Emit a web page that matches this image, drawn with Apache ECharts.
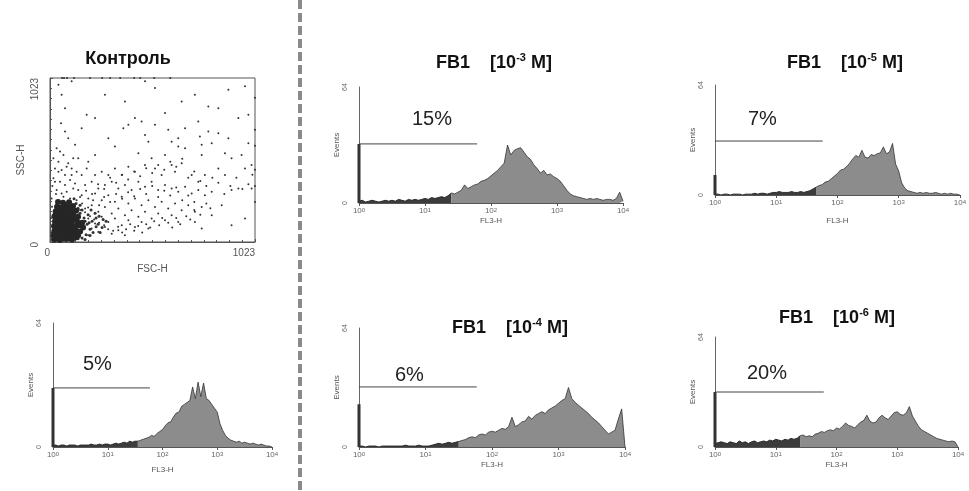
<!DOCTYPE html>
<html><head><meta charset="utf-8">
<script src="https://cdn.jsdelivr.net/npm/echarts@6/dist/echarts.min.js"></script>
<style>html,body{margin:0;padding:0;background:#fff}#c{width:969px;height:491px}</style>
</head><body><div id="c"></div>
<script>
// ---------- DATA ----------
// histogram channel step, in decades of FL3-H (10^0 .. 10^4)
const decadeStep = 0.05;
const xTickExps = [0, 1, 2, 3, 4];

// Events per channel (y axis 0..64)
const ctrlCounts = [1,1,0.5,1,1,0.5,1,1,1,0.5, 1,1,1,1,1.5,1,1,1.5,1,1.5, 1.5,1,1.5,2,1.5,2,2.5,2,3,2.5, 3,
  3,3.5,4,4.5,5,6,5.5,7,8,9, 11,12.5,13,15.5,17.5,18,21,22,23,24,
  31,25,33.5,26,33,25,24,22,20,18, 12,8.5,6,4.5,3.5,3,2.5,3,2,2.5, 2,1.5,2,1.5,1,1.5,1,0.5,0.5,0];
const fb3Counts = [1,1.5,0.5,1,1.5,1,0.5,1,1.5,1, 1.5,1,2,1.5,1,2,1.5,2,1.5,2, 2.5,2,3,2.5,3,3.5,3,4,
  5.5,5,6,7,10,8,9,10,10.5,12, 12.5,13.5,15,16.5,18,20,22,32,26.5,29,
  30,30.5,28,25.5,24,21,19,16.5,18,15.5, 16,14.5,13.5,12,9.5,7,5,4,3.5,3,
  2.5,2,2.5,2,2.5,2,1.5,2,2,1.5, 2.5,6,1];
const fb4Counts = [0.5,0.5,0,0.5,0.5,0.5,0,0.5,0.5,0.5, 0.5,0.5,0.5,0.5,1,0.5,0.5,0.5,1,0.5, 0.5,0.5,1,
  1.5,2,1.5,2,2.5,2,2.5,3,3.5,4, 5,5.5,5,6.5,7,6.5,8,8.5,8,9,
  10,9.5,11,16,11,12,13.5,14,16.5,15, 17,18,19,18,20,21,22,23.5,25,26,
  32,26,24,22.5,21,19.5,18,16,14.5,13, 11,9,7,8,9,15,20.5,0];
const fb5Counts = [0.5,0.5,0,0.5,0.5,0,0.5,0.5,0.5,0,0.5,0.5,0.5, 1,0.5,1,1,0.5,1,
  1.5,1.5,2,1.5,1.5,1.5,2,1.5,1.5,2,1.5,2,2.5,
  3.5,4.5,5.5,6,7.5,8,9.5,11,12.5,14.5, 15,16.5,18.5,21,23,22,26,22,21.5,23.5,
  23,24,24.5,28,24,25,30,18,14,7, 4,2.5,2,1.5,1,1.5,1,1.5,1,1, 1.5,1,0.5,1,0.5,1,0.5,0.5,0];
const fb6Counts = [2,2.5,3,2.5,2,3,2.5,2,3.5,2.5,3,2,3,3.5,2.5,3, 3.5,3,4,3.5,4.5,4,3.5,4.5,4,5,4.5,5,
  6.5,7,6,6.5,6,7.5,8,9,8.5,9.5, 10,9.5,11,10.5,12,14,12.5,12,11,13,
  14.5,15.5,18.5,15,14,14.5,17,18.5,17,16, 18,20,20.5,19,18.5,20,23.5,18,15,12,
  10,9,8,7,6,5,4.5,4,3.5,3, 3.5,3,0];

// order: control, 10^-3, 10^-4, 10^-5, 10^-6
const spikeCounts = [30.5, 32.5, 23, 11.6, 32];
const m1Level = [30.5, 32.6, 32.3, 31.4, 32];
const m1End = [1.77, 1.79, 1.77, 1.76, 1.79];
const darkEnd = [1.55, 1.4, 1.5, 1.65, 1.4];
const percentLabels = ['5%', '15%', '6%', '7%', '20%'];
const concExp = [null, '-3', '-4', '-5', '-6'];

// FSC-H / SSC-H events (0..1023)
const scatterCore = [[20,15],[35,20],[50,12],[65,25],[80,18],[95,22],[110,15],[125,28],
 [18,40],[30,45],[45,38],[60,50],[75,42],[90,55],[105,45],[120,52],[140,40],
 [22,70],[38,65],[52,78],[68,68],[84,80],[98,70],[112,82],[130,72],[150,65],
 [20,100],[34,95],[48,108],[62,98],[78,110],[92,100],[108,112],[125,98],[145,105],[165,90],
 [25,130],[40,125],[55,138],[70,128],[85,140],[100,130],[118,142],[135,128],[160,120],
 [22,160],[38,155],[52,168],[68,158],[82,170],[98,160],[115,172],[140,158],
 [28,190],[45,185],[60,198],[75,188],[92,200],[110,190],[130,195],
 [35,220],[55,215],[72,228],[90,218],[115,225],[40,250],[65,245],[95,248],
 [28,30],[42,28],[58,35],[72,30],[88,35],[102,30],[118,35],[27,55],[43,52],[58,60],[73,55],[88,62],
 [102,58],[30,85],[45,88],[60,85],[75,90],[90,86],[105,90],[28,115],[42,112],[58,118],[73,115],
 [88,120],[103,118],[32,142],[48,145],[62,148],[78,145],[92,150],[108,148],[30,172],[45,175],
 [60,178],[75,172],[90,180],[105,175],[38,205],[52,200],[68,208],[82,205],[100,210]];
const scatterHalo = [[150,180],[170,150],[185,110],[200,80],[180,45],[160,25],[210,130],[230,95],[250,60],
 [140,210],[160,200],[130,240],[120,270],[150,230],[175,130],[190,170],[200,40],[215,60],[230,150],
 [240,110],[260,90],[280,130],[140,20],[175,15],[195,120],[205,200],[225,180],[245,160],[265,140]];
const scatterSparse = [[58,919],[55,741],[75,689],[158,710],[183,793],[374,877],[524,960],[657,877],[790,846],[840,835],
 [890,950],[973,971],[366,710],[474,668],[424,773],[574,804],[740,752],[790,689],[840,679],[890,647],
 [748,658],[640,647],[607,626],[491,626],[291,647],[324,595],[225,543],[125,606],[91,647],[50,564],
 [33,585],[141,522],[191,501],[441,553],[507,522],[574,543],[640,595],[674,585],[757,606],[807,616],
 [873,553],[990,616],[1006,480],[973,459],[940,334],[906,324],[1006,334],[873,418],[840,459],[757,543],
 [773,418],[740,376],[707,418],[657,491],[607,480],[624,438],[557,418],[524,459],[474,480],[424,438],
 [391,470],[358,418],[324,459],[291,418],[258,438],[225,418],[183,459],[158,418],[108,459],[75,418],[42,438],[25,376],
 [175,355],[208,376],[241,334],[274,355],[308,376],[341,334],[374,355],[407,324],[441,376],[474,345],
 [507,376],[540,324],[574,355],[607,334],[640,313],[674,345],[707,303],[740,324],[773,292],[807,313],
 [158,292],[191,271],[225,303],[258,261],[291,292],[324,251],[358,282],[391,240],[424,271],[457,230],
 [491,261],[524,219],[557,251],[590,209],[624,240],[657,198],[690,230],[723,188],[757,219],
 [175,209],[208,230],[241,188],[274,219],[308,177],[341,209],[374,167],[407,198],[441,157],[474,188],
 [507,146],[540,177],[574,136],[607,167],[640,125],
 [191,146],[225,115],[258,157],[291,125],[324,146],[358,104],[391,136],[424,94],[457,125],[491,84],
 [208,84],[241,63],[274,94],[308,52],[341,73],[374,42],[191,42],[158,63],
 [17,522],[42,501],[67,543],[91,491],[116,522],[25,459],[58,449],[83,470],[108,418],[133,438],
 [17,397],[50,376],[75,355],[100,386],[125,365],[33,324],[58,303],[83,313],[116,334],[141,324],
 [8,271],[42,261],[67,282],[100,271],[133,261],
 [391,731],[457,752],[524,731],[590,700],[674,710],[225,773],[75,835],[42,981],[108,1002],[274,919],
 [474,1002],[723,919],[940,773],[990,793],[906,522],[956,543],[973,146],
 [723,125],[807,167],[857,230],[757,84],[906,104],
 [150,200],[175,185],[200,160],[220,140],[245,120],[270,105],[290,80],[315,70],[340,95],[360,60],
 [380,80],[400,110],[420,70],[440,100],[460,60],[480,110],[500,90],[520,130],[545,105],[560,150],
 [590,120],[610,90],[630,150],[650,110],[680,160],[700,140],[720,200],[750,170],[780,240],[800,210],
 [160,240],[190,215],[215,260],[245,230],[270,280],[300,250],[330,300],[360,270],[390,310],[420,285],
 [450,330],[480,300],[510,350],[540,280],[570,320],[600,290],[630,340],[660,260],[690,290],[720,250],
 [150,280],[180,320],[210,300],[240,360],[270,330],[300,400],[330,370],[360,420],[390,390],[420,440],
 [450,410],[480,460],[510,430],[540,480],[570,450],[600,500],[630,470],[660,520],[690,400],[720,440],
 [750,380],[780,350],[810,400],[840,370],[870,300],[900,350],[930,400],[960,330],[990,360],[1010,420],
 [30,300],[10,220],[5,150],[8,60],[12,350],
 [60,1023],[70,1023],[85,1023],[120,1023],[200,1023],[260,1023],[300,1023],[350,1023],[420,1023],
 [450,1023],[520,1023],[600,1023],[1023,900],[1023,700],[1023,600],[1023,450],[1023,350],[1023,250]];

// ---------- LAYOUT ----------
const FONT = 'Liberation Sans, Arial, sans-serif';
const panels = [
  {counts: ctrlCounts, grid: {left: 53, top: 323, width: 219, height: 124}, nameGap: 19,
   pct: {left: 83, top: 354}, title: null},
  {counts: fb3Counts, grid: {left: 359, top: 87, width: 264, height: 116}, nameGap: 14,
   pct: {left: 412, top: 109}, title: {x: 494, top: 52}},
  {counts: fb4Counts, grid: {left: 359, top: 328, width: 266, height: 119}, nameGap: 14,
   pct: {left: 395, top: 365}, title: {x: 510, top: 317}},
  {counts: fb5Counts, grid: {left: 715, top: 85, width: 248, height: 110}, nameGap: 22,
   pct: {left: 748, top: 109}, title: {x: 845, top: 52}},
  {counts: fb6Counts, grid: {left: 715, top: 337, width: 243, height: 110}, nameGap: 14,
   pct: {left: 747, top: 363}, title: {x: 837, top: 307}}
];

const grids = [{left: 50, top: 78, width: 205, height: 164, show: true, borderColor: '#555', borderWidth: 1}];
const xAxes = [{
  gridIndex: 0, type: 'value', min: 0, max: 1023, interval: 1023,
  axisLine: {lineStyle: {color: '#555'}}, splitLine: {show: false},
  axisTick: {show: true, inside: true, length: 3, lineStyle: {color: '#555'}},
  minorTick: {show: true, splitNumber: 16, length: 2, lineStyle: {color: '#555'}},
  axisLabel: {fontSize: 10, color: '#555', fontFamily: FONT, align: 'right', margin: 6, formatter: v => String(v)},
  name: 'FSC-H', nameLocation: 'middle', nameGap: 22, nameTextStyle: {fontSize: 10, color: '#555', fontFamily: FONT}
}];
const yAxes = [{
  gridIndex: 0, type: 'value', min: 0, max: 1023, interval: 1023,
  axisLine: {lineStyle: {color: '#555'}}, splitLine: {show: false},
  axisTick: {show: true, inside: true, length: 3, lineStyle: {color: '#555'}},
  minorTick: {show: true, splitNumber: 16, length: 2, lineStyle: {color: '#555'}},
  axisLabel: {fontSize: 10, color: '#555', fontFamily: FONT, rotate: 90, align: 'right', margin: 10, formatter: v => String(v)},
  name: 'SSC-H', nameLocation: 'middle', nameGap: 24, nameTextStyle: {fontSize: 10, color: '#555', fontFamily: FONT}
}];
const series = [
  {type: 'scatter', xAxisIndex: 0, yAxisIndex: 0, data: scatterSparse, symbolSize: 2,
   itemStyle: {color: '#333', opacity: 1}, silent: true},
  {type: 'scatter', xAxisIndex: 0, yAxisIndex: 0, data: scatterHalo, symbolSize: 3,
   itemStyle: {color: '#333', opacity: 1}, silent: true},
  {type: 'scatter', xAxisIndex: 0, yAxisIndex: 0, data: scatterCore, symbolSize: 6,
   itemStyle: {color: '#262626', opacity: 1}, silent: true}
];
const titles = [{
  text: 'Контроль', left: 128, top: 50, textAlign: 'center', padding: 0,
  textStyle: {fontSize: 18, fontWeight: 'bold', color: '#111', fontFamily: FONT}
}];

panels.forEach((p, k) => {
  const gi = k + 1;
  grids.push(p.grid);
  xAxes.push({
    gridIndex: gi, type: 'value', min: 0, max: 4, interval: 1,
    axisLine: {lineStyle: {color: '#555', width: 1}}, splitLine: {show: false},
    axisTick: {show: true, length: 3, lineStyle: {color: '#555'}},
    axisLabel: {fontSize: 8, color: '#666', fontFamily: FONT, margin: 4,
      formatter: v => '10{s|' + xTickExps[Math.round(v)] + '}',
      rich: {s: {fontSize: 6, verticalAlign: 'top', color: '#666', fontFamily: FONT}}},
    name: 'FL3-H', nameLocation: 'middle', nameGap: p.nameGap,
    nameTextStyle: {fontSize: 8, color: '#555', fontFamily: FONT}
  });
  yAxes.push({
    gridIndex: gi, type: 'value', min: 0, max: 64, interval: 64,
    axisLine: {show: true, lineStyle: {color: '#666'}}, axisTick: {show: false}, splitLine: {show: false},
    axisLabel: {rotate: 90, fontSize: 7, color: '#666', margin: 10, fontFamily: FONT},
    name: 'Events', nameLocation: 'middle', nameGap: 12,
    nameTextStyle: {fontSize: 8, color: '#555', fontFamily: FONT}
  });
  const pts = p.counts.map((v, i) => [i * decadeStep, v]);
  const dark = pts.filter(q => q[0] <= darkEnd[k] + 1e-9);
  const gray = pts.filter(q => q[0] >= darkEnd[k] - 1e-9);
  const common = {type: 'line', xAxisIndex: gi, yAxisIndex: gi, symbol: 'none', silent: true, animation: false};
  series.push(Object.assign({}, common, {data: dark,
    lineStyle: {color: '#2a2a2a', width: 1}, areaStyle: {color: '#3c3c3c', opacity: 1}}));
  series.push(Object.assign({}, common, {data: gray,
    lineStyle: {color: '#333', width: 0.8}, areaStyle: {color: '#8c8c8c', opacity: 1}}));
  series.push(Object.assign({}, common, {data: [[0, 0], [0, spikeCounts[k]]],
    lineStyle: {color: '#333', width: 3}}));
  series.push(Object.assign({}, common, {z: 5,
    data: [[0, m1Level[k]], {value: [m1End[k], m1Level[k]],
      label: {show: true, position: 'top', formatter: 'M1', fontSize: 6, color: '#444', offset: [-17, 0], fontFamily: FONT}}],
    lineStyle: {color: '#444', width: 1}}));

  titles.push({text: percentLabels[k], left: p.pct.left, top: p.pct.top, padding: 0,
    textStyle: {fontSize: 20, fontWeight: 'normal', color: '#222', fontFamily: FONT}});
  if (p.title) {
    titles.push({
      text: '{b|FB1    [10}{s|' + concExp[k] + '}{b| M]}', left: p.title.x, top: p.title.top,
      textAlign: 'center', padding: 0,
      textStyle: {rich: {
        b: {fontSize: 18, fontWeight: 'bold', color: '#111', fontFamily: FONT, lineHeight: 22},
        s: {fontSize: 11, fontWeight: 'bold', color: '#111', fontFamily: FONT, verticalAlign: 'top'}
      }}
    });
  }
});

const chart = echarts.init(document.getElementById('c'), null, {renderer: 'canvas'});
chart.setOption({
  animation: false,
  backgroundColor: '#fff',
  title: titles,
  grid: grids,
  xAxis: xAxes,
  yAxis: yAxes,
  series: series,
  graphic: [{type: 'line', shape: {x1: 300, y1: 0, x2: 300, y2: 491},
    style: {stroke: '#8a8a8a', lineWidth: 4, lineDash: [9, 4]}, silent: true}]
});
</script>
</body></html>
